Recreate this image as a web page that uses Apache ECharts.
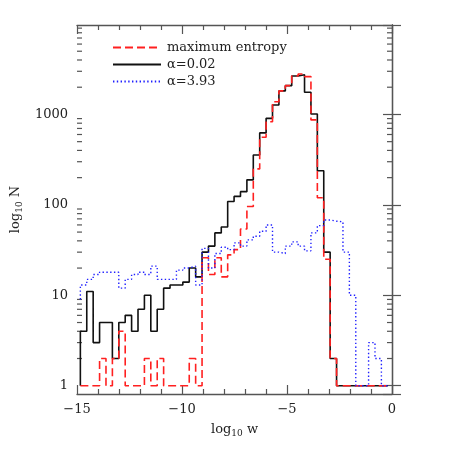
<!DOCTYPE html>
<html>
<head>
<meta charset="utf-8">
<script src="https://cdn.jsdelivr.net/npm/echarts@6/dist/echarts.min.js"></script>
<style>
  html, body { margin: 0; padding: 0; background: #fff; }
  #main { width: 458px; height: 458px; }
</style>
</head>
<body>
<div id="main"></div>
<script>
// histogram bins in log10 w (48 bins)
const BIN_START = -14.84
const BIN_WIDTH = 0.305

// counts per bin
const maxEntropy = [1, 1, 1, 2, 1, 2, 4, 1, 1, 1,
  2, 1, 2, 1, 1, 1, 1, 2, 1, 26,
  17, 26, 16, 28, 32, 54, 96, 250, 560, 830,
  1380, 1820, 2080, 2660, 2800, 2620, 870, 120, 25, 2,
  1, 1, 1, 1, 1, 1, 1, 1]
const alpha002 = [4, 11, 3, 5, 5, 2, 5, 6, 4, 7,
  10, 4, 7, 12, 13, 13, 14, 20, 16, 30,
  35, 49, 57, 109, 124, 140, 189, 356, 625, 905,
  1270, 1820, 2080, 2660, 2750, 1760, 1010, 238, 30, 2,
  1, 1, 1, 1, 1, 1, 1, 1]
const alpha393 = [13, 15, 17, 18, 18, 18, 12, 15, 17, 18,
  17, 21, 15, 15, 15, 19, 20, 21, 13, 33,
  20, 29, 34, 32, 38, 35, 41, 45, 51, 60,
  30, 29, 35, 39, 35, 31, 49, 59, 68, 66,
  65, 30, 10, 1, 1, 3, 2, 1]

const xTicks = [-15, -10, -5, 0]
const yTickLabels = [1, 10, 100, 1000]
const Y_MIN = 0.81
const Y_MAX = 9750

const FONT = 'DejaVu Serif'
const AXIS = '#555'

// step outline of a histogram
function steps(counts, base) {
  const pts = []
  if (base != null) pts.push([BIN_START, base])
  counts.forEach(function (c, i) {
    pts.push([BIN_START + i * BIN_WIDTH, c])
    pts.push([BIN_START + (i + 1) * BIN_WIDTH, c])
  })
  return pts
}

// log minor tick positions 2..9 per decade
const minorLog = []
for (let d = 1; d <= 1000; d *= 10) {
  for (let k = 2; k <= 9; k++) {
    if (k * d < Y_MAX) minorLog.push([xTicks[0], k * d])
  }
}

const chart = echarts.init(document.getElementById('main'), null, { renderer: 'canvas' })

const xCommon = {
  type: 'value',
  min: xTicks[0],
  max: xTicks[xTicks.length - 1],
  interval: 5,
  axisLine: { show: true, onZero: false, lineStyle: { color: AXIS, width: 1.3 } },
  axisTick: { show: true, inside: true, length: 9, lineStyle: { color: AXIS, width: 1.2 } },
  minorTick: { show: true, splitNumber: 5, length: 5, lineStyle: { color: AXIS, width: 1.2 } },
  splitLine: { show: false }
}
const yCommon = {
  type: 'log',
  logBase: 10,
  min: Y_MIN,
  max: Y_MAX,
  axisLine: { show: true, lineStyle: { color: AXIS, width: 1.3 } },
  axisTick: { show: true, inside: true, length: 9, lineStyle: { color: AXIS, width: 1.2 } },
  splitLine: { show: false }
}

chart.setOption({
  animation: false,
  backgroundColor: '#fff',
  grid: { left: 77, right: 66, top: 25, bottom: 64 },
  legend: {
    orient: 'vertical',
    left: 107,
    top: 36,
    itemWidth: 48,
    itemHeight: 14,
    itemGap: 4,
    itemStyle: { color: 'transparent', borderColor: 'transparent', borderWidth: 0 },
    textStyle: { fontFamily: FONT, fontSize: 13, color: '#222', padding: [0, 0, 0, 1] },
    data: ['maximum entropy', 'α=0.02', 'α=3.93']
  },
  xAxis: [
    Object.assign({}, xCommon, {
      position: 'bottom',
      axisLabel: {
        show: true, margin: 9, fontFamily: FONT, fontSize: 13, color: '#222',
        formatter: function (v) { return v < 0 ? '\u2212' + Math.abs(v) : String(v) }
      },
      name: '{a|log}{s|10}{a| w}',
      nameLocation: 'middle',
      nameGap: 27,
      nameTextStyle: {
        rich: {
          a: { fontFamily: FONT, fontSize: 13, color: '#222' },
          s: { fontFamily: FONT, fontSize: 9, color: '#222', padding: [8, 0, 0, 0] }
        }
      }
    }),
    Object.assign({}, xCommon, { position: 'top', axisLabel: { show: false } })
  ],
  yAxis: [
    Object.assign({}, yCommon, {
      position: 'left',
      axisLabel: {
        show: true, margin: 9, fontFamily: FONT, fontSize: 13, color: '#222',
        formatter: function (v) {
          const l = Math.log10(v)
          return Math.abs(l - Math.round(l)) < 1e-6 && yTickLabels.indexOf(Math.round(v)) >= 0 ? String(Math.round(v)) : ''
        }
      },
      name: '{a|log}{s|10}{a| N}',
      nameLocation: 'middle',
      nameGap: 44,
      nameTextStyle: {
        rich: {
          a: { fontFamily: FONT, fontSize: 13, color: '#222' },
          s: { fontFamily: FONT, fontSize: 9, color: '#222', padding: [8, 0, 0, 0] }
        }
      }
    }),
    Object.assign({}, yCommon, { position: 'right', axisLabel: { show: false } })
  ],
  series: [
    {
      name: 'maximum entropy',
      type: 'line',
      xAxisIndex: 0, yAxisIndex: 0,
      data: steps(maxEntropy),
      symbol: 'none',
      z: 4,
      lineStyle: { color: '#ff2020', width: 1.6, type: [8, 4] },
      itemStyle: { color: '#ff2020' }
    },
    {
      name: 'α=0.02',
      type: 'line',
      xAxisIndex: 0, yAxisIndex: 0,
      data: steps(alpha002, 1),
      symbol: 'none',
      z: 3,
      lineStyle: { color: '#111', width: 1.6, type: 'solid' },
      itemStyle: { color: '#111' }
    },
    {
      name: 'α=3.93',
      type: 'line',
      xAxisIndex: 0, yAxisIndex: 0,
      data: steps(alpha393, 9),
      symbol: 'none',
      z: 5,
      lineStyle: { color: '#2020ff', width: 1.4, type: [1.4, 2.4] },
      itemStyle: { color: '#2020ff' }
    },
    {
      // minor log ticks on left and right frame
      type: 'custom',
      xAxisIndex: 0, yAxisIndex: 0,
      silent: true,
      z: 1,
      data: minorLog,
      renderItem: function (params, api) {
        const v = api.value(1)
        const l = api.coord([xTicks[0], v])
        const r = api.coord([xTicks[xTicks.length - 1], v])
        const st = { stroke: AXIS, lineWidth: 1.2 }
        return {
          type: 'group',
          children: [
            { type: 'line', shape: { x1: l[0], y1: l[1], x2: l[0] + 5, y2: l[1] }, style: st },
            { type: 'line', shape: { x1: r[0] - 5, y1: r[1], x2: r[0], y2: r[1] }, style: st }
          ]
        }
      }
    }
  ]
})
</script>
</body>
</html>
